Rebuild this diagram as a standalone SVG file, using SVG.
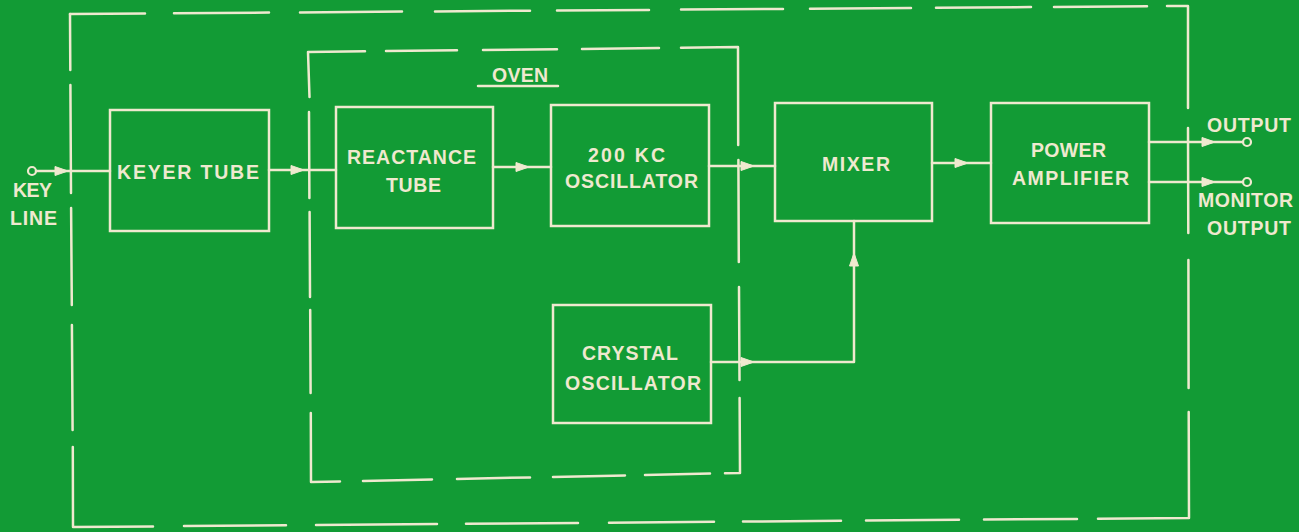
<svg xmlns="http://www.w3.org/2000/svg" xmlns:xlink="http://www.w3.org/1999/xlink" width="1299" height="532" viewBox="0 0 1299 532">
<style>
.ln{stroke:#efe9cf;stroke-width:2.5;fill:none;stroke-linecap:round;stroke-linejoin:round}
.bx{stroke:#efe9cf;stroke-width:2.5;fill:none}
.ah{fill:#efe9cf;stroke:#efe9cf;stroke-width:1;stroke-linejoin:round}
.term{stroke:#efe9cf;stroke-width:2.2;fill:#129b35}
.t{font-family:"Liberation Sans","DejaVu Sans",Arial,sans-serif;font-size:19.5px;font-weight:bold;fill:#efe9cf;stroke:none}
</style>
<defs>
<path id="ah" d="M-6,-4.5 L7,0 L-6,4.5 Z"/>
</defs>
<rect width="1299" height="532" fill="#129b35"/>

<g id="outer-boundary" class="ln">
<line x1="70" y1="14" x2="145" y2="13.5"/>
<line x1="174" y1="13.3" x2="269" y2="12.6"/>
<line x1="300" y1="12.4" x2="402" y2="11.6"/>
<line x1="435" y1="11.4" x2="530" y2="10.7"/>
<line x1="557" y1="10.5" x2="649" y2="9.9"/>
<line x1="681" y1="9.6" x2="783" y2="8.9"/>
<line x1="810" y1="8.7" x2="911" y2="8"/>
<line x1="936" y1="7.8" x2="1031" y2="7.1"/>
<line x1="1054" y1="7" x2="1147" y2="6.3"/>
<polyline points="1167,6.1 1188,6 1188,108"/>
<line x1="1188" y1="128" x2="1188.3" y2="233"/>
<line x1="1188.4" y1="260" x2="1188.6" y2="388"/>
<polyline points="1188.7,412 1189,518 1098,518.7"/>
<line x1="1077" y1="518.9" x2="984" y2="519.6"/>
<line x1="959" y1="519.8" x2="866" y2="520.6"/>
<line x1="841" y1="520.8" x2="743" y2="521.6"/>
<line x1="714" y1="521.8" x2="609" y2="522.7"/>
<line x1="578" y1="522.9" x2="466" y2="523.8"/>
<line x1="437" y1="524" x2="316" y2="525"/>
<line x1="286" y1="525.3" x2="184" y2="526.1"/>
<polyline points="153,526.4 73,527 72.8,447"/>
<line x1="72.6" y1="430" x2="71.9" y2="325"/>
<line x1="71.8" y1="305" x2="71.1" y2="208"/>
<line x1="71" y1="193" x2="70.4" y2="85"/>
<polyline points="70.3,70 70,14 70,14"/>
</g>

<g id="oven-boundary">
<g class="ln">
<polyline points="309.5,97 308,52 365,51.3"/>
<line x1="386" y1="51.1" x2="457" y2="50.3"/>
<line x1="483" y1="50" x2="557" y2="49.2"/>
<line x1="582" y1="48.9" x2="659" y2="48"/>
<polyline points="681,47.7 738,47 738.2,145"/>
<line x1="738.4" y1="160" x2="738.8" y2="262"/>
<line x1="739" y1="287" x2="739.5" y2="380"/>
<polyline points="739.6,398 740,473 725,473.3"/>
<line x1="710" y1="473.6" x2="645" y2="475"/>
<line x1="625" y1="475.4" x2="553" y2="476.9"/>
<line x1="530" y1="477.4" x2="457" y2="478.9"/>
<line x1="432" y1="479.4" x2="363" y2="480.9"/>
<polyline points="340,481.4 311,482 310.8,413"/>
<line x1="310.6" y1="393" x2="310.2" y2="310"/>
<line x1="310" y1="297" x2="309.6" y2="212"/>
<line x1="309.4" y1="198" x2="309" y2="112"/>
<line x1="478" y1="86" x2="558" y2="86"/>
</g>
<text class="t" x="492" y="82" textLength="56" lengthAdjust="spacing">OVEN</text>
</g>

<g id="key-line">
<circle class="term" cx="32" cy="171" r="4"/>
<text class="t" x="13" y="197" textLength="39" lengthAdjust="spacing">KEY</text>
<text class="t" x="10" y="225" textLength="47" lengthAdjust="spacing">LINE</text>
</g>

<g id="keyer-tube">
<rect class="bx" x="110" y="110" width="159" height="121"/>
<text class="t" x="117" y="179" textLength="142" lengthAdjust="spacing">KEYER TUBE</text>
</g>

<g id="reactance-tube">
<rect class="bx" x="336" y="107" width="157" height="121"/>
<text class="t" x="347" y="164" textLength="129" lengthAdjust="spacing">REACTANCE</text>
<text class="t" x="386" y="192" textLength="55" lengthAdjust="spacing">TUBE</text>
</g>

<g id="osc-200kc">
<rect class="bx" x="551" y="105" width="158" height="121"/>
<text class="t" x="588" y="162" textLength="77" lengthAdjust="spacing">200 KC</text>
<text class="t" x="565" y="188" textLength="133" lengthAdjust="spacing">OSCILLATOR</text>
</g>

<g id="crystal-oscillator">
<rect class="bx" x="553" y="305" width="158" height="118"/>
<text class="t" x="582" y="360" textLength="96" lengthAdjust="spacing">CRYSTAL</text>
<text class="t" x="565" y="390" textLength="136" lengthAdjust="spacing">OSCILLATOR</text>
</g>

<g id="mixer">
<rect class="bx" x="775" y="103" width="157" height="118"/>
<text class="t" x="822" y="171" textLength="68" lengthAdjust="spacing">MIXER</text>
</g>

<g id="power-amplifier">
<rect class="bx" x="991" y="103" width="158" height="120"/>
<text class="t" x="1031" y="157" textLength="75" lengthAdjust="spacing">POWER</text>
<text class="t" x="1012" y="185" textLength="117" lengthAdjust="spacing">AMPLIFIER</text>
</g>

<g id="outputs">
<circle class="term" cx="1247" cy="142" r="4"/>
<circle class="term" cx="1247" cy="182" r="4"/>
<text class="t" x="1207" y="132" textLength="84" lengthAdjust="spacing">OUTPUT</text>
<text class="t" x="1198" y="207" textLength="95" lengthAdjust="spacing">MONITOR</text>
<text class="t" x="1207" y="235" textLength="84" lengthAdjust="spacing">OUTPUT</text>
</g>

<g id="connectors">
<g class="ln">
<line x1="36" y1="171" x2="110" y2="171"/>
<line x1="269" y1="170" x2="336" y2="170"/>
<line x1="493" y1="167" x2="551" y2="167"/>
<line x1="709" y1="166" x2="775" y2="166"/>
<line x1="932" y1="163" x2="991" y2="163"/>
<line x1="1149" y1="142" x2="1243" y2="142"/>
<line x1="1149" y1="182" x2="1243" y2="182"/>
<polyline points="711,362 854,362 854,221"/>
</g>
<g class="ah">
<use xlink:href="#ah" transform="translate(61,171)"/>
<use xlink:href="#ah" transform="translate(297,170)"/>
<use xlink:href="#ah" transform="translate(522,167)"/>
<use xlink:href="#ah" transform="translate(747,166)"/>
<use xlink:href="#ah" transform="translate(961,163)"/>
<use xlink:href="#ah" transform="translate(1208,142)"/>
<use xlink:href="#ah" transform="translate(1208,182)"/>
<use xlink:href="#ah" transform="translate(747,362)"/>
<use xlink:href="#ah" transform="translate(854,260) rotate(-90)"/>
</g>
</g>
</svg>
